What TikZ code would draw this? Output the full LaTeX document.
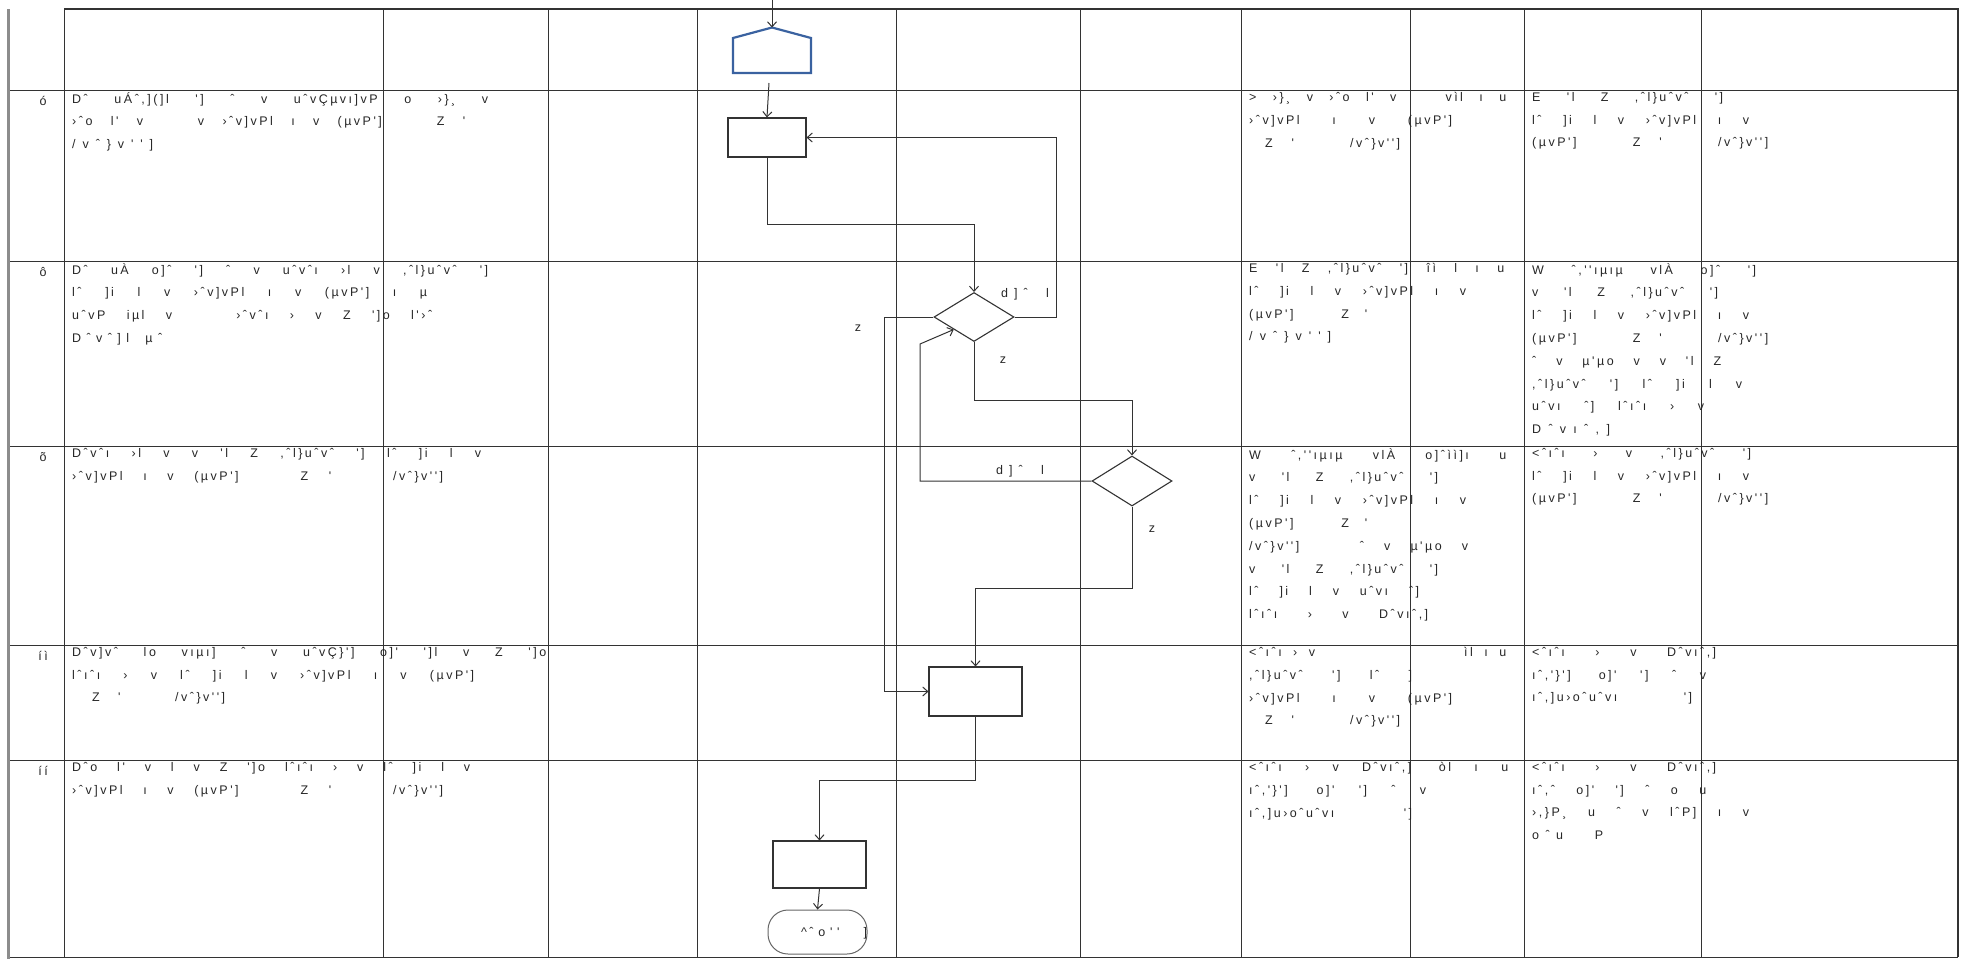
\documentclass[tikz,border=0pt]{standalone}
\usepackage{fontspec}
\newfontfamily\gf[LetterSpace=20]{Liberation Sans}
\usetikzlibrary{arrows.meta,shapes.geometric}
\definecolor{pblue}{HTML}{3A62A0}
\definecolor{tc}{HTML}{262626}
\definecolor{lc}{HTML}{333333}
\newcommand\Ln[2]{\makebox[#1pt][s]{#2}}
\tikzset{
  tline/.style={draw=lc, line width=1pt},
  gline/.style={draw=black!45, line width=3pt},
  conn/.style={draw=lc, line width=1pt},
  arr/.style={conn, -{Straight Barb[length=5pt,width=9pt]}},
  procbox/.style={draw=lc, line width=1.1pt, inner sep=0pt, rectangle},
  decis/.style={draw=lc, line width=1.1pt, shape=diamond, inner sep=0pt},
  termin/.style={draw=black!60, line width=1pt, rounded corners=20pt, inner sep=0pt, rectangle},
  txt/.style={font=\gf\fontsize{12.5}{22.8}\selectfont, text=tc, inner sep=0pt, anchor=north west, align=left},
  lab/.style={font=\gf\fontsize{12.5}{14}\selectfont, text=tc, inner sep=0pt},
}
\begin{document}
\begin{tikzpicture}[x=1pt,y=-1pt]
\useasboundingbox (0,0) rectangle (1970,959);
% table grid
\foreach \yy in {90,261,446,645,760} \draw[tline] (8,\yy) -- (1958,\yy);
\draw[tline] (8,957) -- (1958,957);
\draw[tline, line width=1.8pt] (64,9) -- (1959,9);
\foreach \xx in {64,383,548,697,896,1080,1241,1410,1524,1701} \draw[tline] (\xx,9) -- (\xx,957);
\draw[tline, line width=1.8pt] (1958,9) -- (1958,957);
\draw[gline] (8,9) -- (8,959);

% row numbers
\node[lab] (n1) at (43,101) {ó};
\node[lab] (n2) at (43,272) {ô};
\node[lab] (n3) at (43,457) {õ};
\node[lab] (n4) at (43,656) {íì};
\node[lab] (n5) at (43,771) {íí};

% column 1 texts
\node[txt] (c11) at (72,92) {\Ln{416}{Dˆ uÁˆ,](]l '] ˆ v uˆvÇµvı]vP o ›\}¸ v}\\
\Ln{393}{›ˆo l' v ~ v ›ˆv]vPl ı v (µvP'] ~ Z '}\\
\Ln{81}{/ v ˆ \} v ' ' ]}};
\node[txt] (c12) at (72,263) {\Ln{416}{Dˆ uÀ o]ˆ '] ˆ v uˆvˆı ›l v ,ˆl\}uˆvˆ ']}\\
\Ln{355}{lˆ ]i l v ›ˆv]vPl ı v (µvP'] ı µ}\\
\Ln{360}{uˆvP iµl v ~ ›ˆvˆı › v Z ']o l'›ˆ}\\
\Ln{90}{D ˆ v ˆ ] l ~ µ ˆ}};
\node[txt] (c13) at (72,448) {\Ln{409}{Dˆvˆı ›l v v 'l Z ,ˆl\}uˆvˆ '] lˆ ]i l v}\\
\Ln{371}{›ˆv]vPl ı v (µvP'] ~ Z ' ~ /vˆ\}v'']}};
\node[txt] (c14) at (72,647) {\Ln{474}{Dˆv]vˆ lo vıµı] ˆ v uˆvÇ\}'] o]' ']l v Z ']o}\\
\Ln{402}{lˆıˆı › v lˆ ]i l v ›ˆv]vPl ı v (µvP']}\\
\hspace*{20pt}\Ln{133}{Z ' ~ /vˆ\}v'']}};
\node[txt] (c15) at (72,762) {\Ln{398}{Dˆo l' v l v Z ']o lˆıˆı › v lˆ ]i l v}\\
\Ln{371}{›ˆv]vPl ı v (µvP'] ~ Z ' ~ /vˆ\}v'']}};

% column 1241 texts
\node[txt] (c21) at (1249,92) {\Ln{257}{> ›\}¸ v ›ˆo l' v ~ vìl ı u}\\
\Ln{203}{›ˆv]vPl ı v (µvP']}\\
\hspace*{16pt}\Ln{135}{Z ' ~ /vˆ\}v'']}};
\node[txt] (c22) at (1249,263) {\Ln{255}{E 'l Z ,ˆl\}uˆvˆ '] îì l ı u}\\
\Ln{217}{lˆ ]i l v ›ˆv]vPl ı v}\\
\Ln{118}{(µvP'] ~ Z '}\\
\Ln{82}{/ v ˆ \} v ' ' ]}};
\node[txt] (c23) at (1249,448) {\Ln{257}{W ˆ,''ıµıµ vlÀ o]ˆìì]ı u}\\
\Ln{189}{v 'l Z ,ˆl\}uˆvˆ ']}\\
\Ln{217}{lˆ ]i l v ›ˆv]vPl ı v}\\
\Ln{118}{(µvP'] ~ Z '}\\
\Ln{219}{/vˆ\}v''] ~ ˆ v µ'µo v}\\
\Ln{189}{v 'l Z ,ˆl\}uˆvˆ ']}\\
\Ln{170}{lˆ ]i l v uˆvı ˆ]}\\
\Ln{179}{lˆıˆı › v Dˆvıˆ,]}};
\node[txt] (c24) at (1249,647) {\Ln{257}{<ˆıˆı › v ~ ~ ~ ~ ~ ~ ìl ı u}\\
\Ln{163}{,ˆl\}uˆvˆ '] lˆ ]}\\
\Ln{203}{›ˆv]vPl ı v (µvP']}\\
\hspace*{16pt}\Ln{135}{Z ' ~ /vˆ\}v'']}};
\node[txt] (c25) at (1249,762) {\Ln{259}{<ˆıˆı › v Dˆvıˆ,] òl ı u}\\
\Ln{177}{ıˆ,'\}'] o]' '] ˆ v}\\
\Ln{163}{ıˆ,]u›oˆuˆvı ']}};

% column 1524 texts
\node[txt] (c31) at (1532,92) {\Ln{191}{E 'l Z ,ˆl\}uˆvˆ ']}\\
\Ln{217}{lˆ ]i l v ›ˆv]vPl ı v}\\
\Ln{236}{(µvP'] ~ Z ' ~ /vˆ\}v'']}};
\node[txt] (c32) at (1532,263) {\Ln{224}{W ˆ,''ıµıµ vlÀ o]ˆ ']}\\
\Ln{186}{v 'l Z ,ˆl\}uˆvˆ ']}\\
\Ln{217}{lˆ ]i l v ›ˆv]vPl ı v}\\
\Ln{236}{(µvP'] ~ Z ' ~ /vˆ\}v'']}\\
\Ln{189}{ˆ v µ'µo v v 'l Z}\\
\Ln{210}{,ˆl\}uˆvˆ '] lˆ ]i l v}\\
\Ln{172}{uˆvı ˆ] lˆıˆı › v}\\
\Ln{78}{D ˆ v ı ˆ , ]}};
\node[txt] (c33) at (1532,448) {\Ln{219}{<ˆıˆı › v ,ˆl\}uˆvˆ ']}\\
\Ln{217}{lˆ ]i l v ›ˆv]vPl ı v}\\
\Ln{236}{(µvP'] ~ Z ' ~ /vˆ\}v'']}};
\node[txt] (c34) at (1532,647) {\Ln{184}{<ˆıˆı › v Dˆvıˆ,]}\\
\Ln{174}{ıˆ,'\}'] o]' '] ˆ v}\\
\Ln{160}{ıˆ,]u›oˆuˆvı ']}};
\node[txt] (c35) at (1532,762) {\Ln{184}{<ˆıˆı › v Dˆvıˆ,]}\\
\Ln{174}{ıˆ,ˆ o]' '] ˆ o u}\\
\Ln{217}{›,\}P¸ u ˆ v lˆP] ı v}\\
\Ln{71}{o ˆ u ~ ~ P}};

% flowchart
\coordinate (top) at (772,0);
\coordinate (pt) at (772,27.5);
\coordinate (pb) at (769,83);
\draw[draw=pblue, line width=2.2pt, line join=miter] (733,73) -- (733,38) -- (pt) -- (811,38) -- (811,73) -- cycle;
\node[procbox, minimum width=78pt, minimum height=39pt] (b1) at (767,137.5) {};
\node[decis, minimum width=80pt, minimum height=49pt, aspect=1.63] (d1) at (974,317) {};
\node[decis, minimum width=80pt, minimum height=50pt, aspect=1.6] (d2) at (1132,481) {};
\node[procbox, minimum width=93pt, minimum height=49pt] (b3) at (975.5,691.5) {};
\node[procbox, minimum width=93pt, minimum height=47pt] (b4) at (819.5,864.5) {};
\node[termin, minimum width=99pt, minimum height=44pt] (t1) at (817.5,932) {};
\node[lab] (tt) at (834,933) {\Ln{66}{\textasciicircum ˆ o ' ' ~ ~ ]}};
\coordinate (lp) at (920,344);

\draw[arr] (top) -- (pt);
\draw[arr] (pb) -- (b1.north);
\draw[arr] (b1.south) -- ++(0,67) -| (d1.north);
\draw[arr] (d1.east) -- ++(42,0) |- (b1.east);
\draw[arr] (d1.west) -- ++(-49,0) |- (b3.west);
\draw[arr] (d1.south) -- ++(0,58) -| (d2.north);
\draw[arr] (d2.west) -| (lp) -- (d1.south west);
\draw[arr] (d2.south) -- ++(0,82) -| (b3.north);
\draw[arr] (b3.south) -- ++(0,64) -| (b4.north);
\draw[arr] (b4.south) -- (t1.north);

% labels
\node[lab] (l1) at (1025,294) {\Ln{48}{d ] ˆ ~ l}};
\node[lab] (l2) at (1020,471) {\Ln{48}{d ] ˆ ~ l}};
\node[lab] (z1) at (858,328) {z};
\node[lab] (z2) at (1003,360) {z};
\node[lab] (z3) at (1152,529) {z};
\end{tikzpicture}
\end{document}
